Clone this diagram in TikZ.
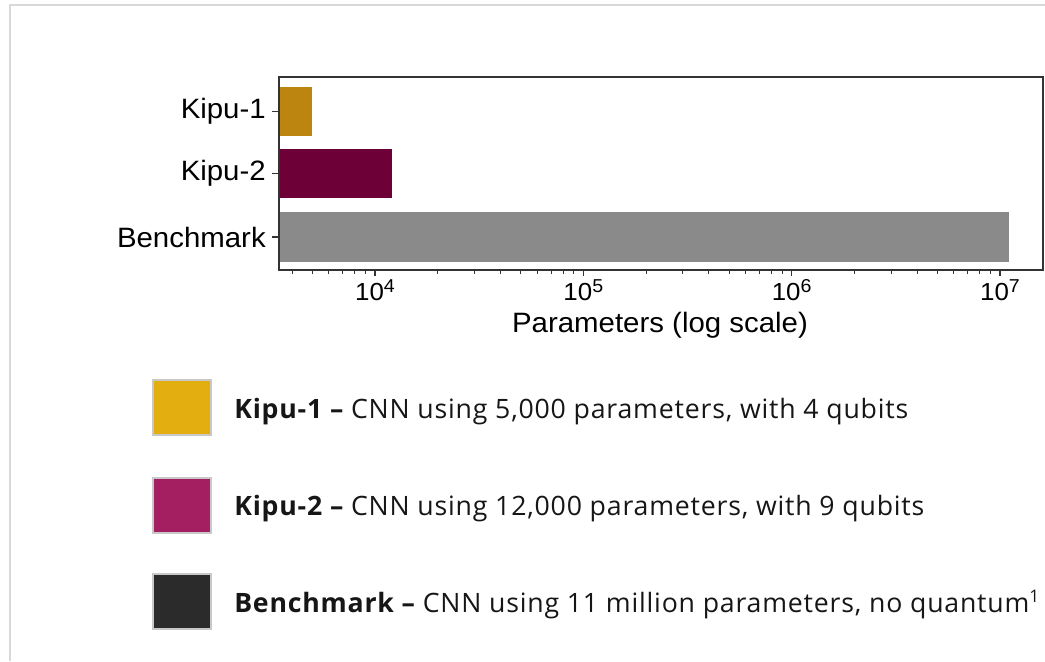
\documentclass[tikz,border=0pt]{standalone}
\usepackage{fontspec}
\usepackage{tikz}
\usetikzlibrary{positioning,calc}
\newfontfamily\chartfont[FakeStretch=1.05]{Liberation Sans}
\newfontfamily\legendfont[LetterSpace=3]{Open Sans}
\definecolor{gold1}{HTML}{BC8510}
\definecolor{wine1}{HTML}{6E0038}
\definecolor{grey1}{HTML}{8A8A8A}
\definecolor{gold2}{HTML}{E3AF10}
\definecolor{berry2}{HTML}{A41E62}
\definecolor{coal}{HTML}{2B2B2B}
\definecolor{frame}{HTML}{D9D9D9}
\definecolor{swatchedge}{HTML}{C8C8C8}
\definecolor{ink}{HTML}{161616}
\definecolor{axisc}{HTML}{333333}

\begin{document}
\begin{tikzpicture}[x=0.75pt,y=-0.75pt,
  declare function={lx(\e)=375+208.33*(\e-4);},
  chartlabel/.style={font=\chartfont\fontsize{21}{24}\selectfont,text=black,inner sep=0pt},
  ticklabel/.style={font=\chartfont\fontsize{18.5}{21}\selectfont,text=black,inner sep=0pt},
  swatch/.style={draw=swatchedge,line width=1.5pt},
  legendtext/.style={font=\legendfont\fontsize{20}{24}\selectfont,text=ink,anchor=base west,inner sep=0pt}]
  \useasboundingbox (0,0) rectangle (1045,661);
  % outer frame
  \draw[frame,line width=1.5pt] (10,661) -- (10,5) -- (1045,5);
  % bars
  \fill[gold1] (279,87) rectangle ({lx(3.699)},136);
  \fill[wine1] (279,149) rectangle ({lx(4.0792)},198);
  \fill[grey1] (279,212) rectangle ({lx(7.0414)},262);
  % axes box
  \draw[axisc,line width=1.1pt] (279,77) rectangle (1043,270);
  % y ticks and labels
  \foreach \yc/\name/\txt in {111.5/lab1/Kipu-1,173.5/lab2/Kipu-2,237/lab3/Benchmark}{
    \draw[axisc,line width=0.8pt] (272,\yc) -- (279,\yc);
    \node[chartlabel,anchor=east] (\name) at (266,\yc) {\txt};
  }
  % x ticks
  \foreach \d in {4,5,6,7}{
    \draw[axisc,line width=0.8pt] ({lx(\d)},270) -- ({lx(\d)},276);
    \node[ticklabel,anchor=base] (tick\d) at ({lx(\d)},300)
      {10\raisebox{5.5pt}{\fontsize{14}{16}\selectfont\d}};
  }
  \foreach \m in {4,...,9}
    \draw[axisc,line width=0.6pt] ({lx(3+log10(\m))},270) -- ({lx(3+log10(\m))},273.5);
  \foreach \d in {4,5,6}
    \foreach \m in {2,...,9}
      \draw[axisc,line width=0.6pt] ({lx(\d+log10(\m))},270) -- ({lx(\d+log10(\m))},273.5);
  \node[chartlabel,anchor=base] (xlabel) at (660,332) {Parameters (log scale)};
  % legend
  \draw[swatch,fill=gold2] (153,380) rectangle (211,435);
  \node[legendtext] (leg1) at (234,418)
    {\bfseries Kipu-1 –\mdseries{} CNN using 5,000 parameters, with 4 qubits};
  \draw[swatch,fill=berry2] (153,478) rectangle (211,533);
  \node[legendtext] (leg2) at (234,515)
    {\bfseries Kipu-2 –\mdseries{} CNN using 12,000 parameters, with 9 qubits};
  \draw[swatch,fill=coal] (153,574) rectangle (211,629);
  \node[legendtext] (leg3) at (234,612)
    {\bfseries Benchmark –\mdseries{} CNN using 11 million parameters, no quantum\raisebox{7pt}{\fontsize{13}{15}\selectfont 1}};
\end{tikzpicture}
\end{document}
